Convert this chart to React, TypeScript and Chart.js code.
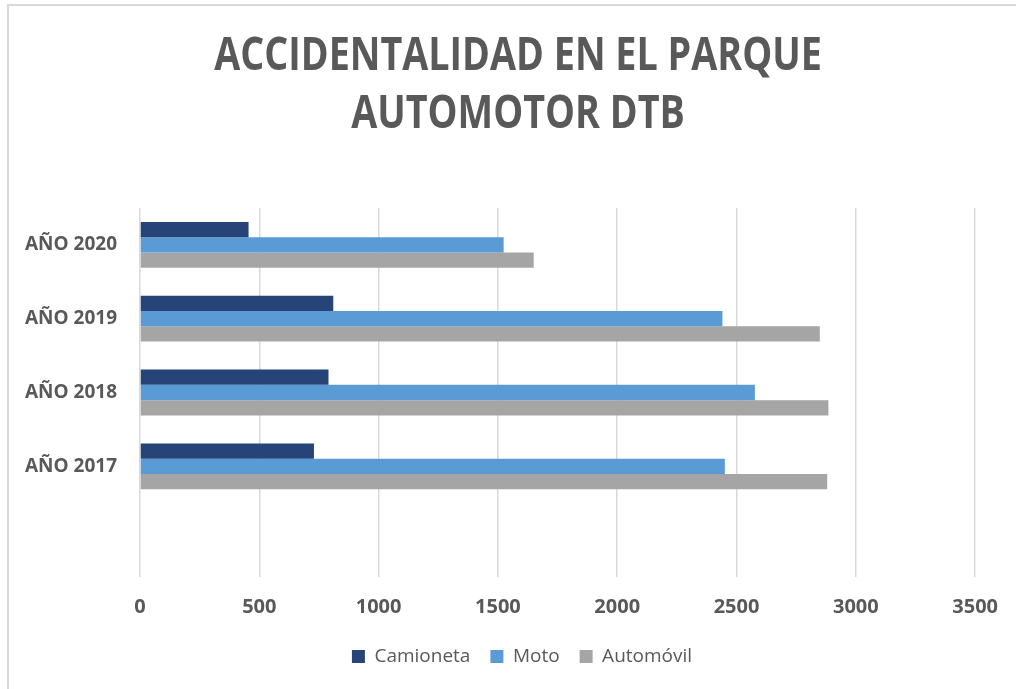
import React, { useEffect, useRef } from "react";
import { Chart, registerables } from "chart.js";

Chart.register(...registerables);

const titleLines = ["ACCIDENTALIDAD EN EL PARQUE", "AUTOMOTOR DTB"];
const categories = ["AÑO 2020", "AÑO 2019", "AÑO 2018", "AÑO 2017", ""];
const camioneta = [455, 810, 790, 729, null];
const moto = [1524, 2441, 2577, 2451, null];
const automovil = [1650, 2849, 2885, 2880, null];
const seriesNames = ["Camioneta", "Moto", "Automóvil"];
const seriesColors = ["#264478", "#5B9BD5", "#A5A5A5"];
const xMin = 0;
const xMax = 3500;
const xStep = 500;

const GRAY = "#595959";

const condensedTitle = {
  id: "condensedTitle",
  afterLayout(chart: any) {
    // centre the legend under the whole chart frame, as in the original
    if (chart.legend) {
      chart.legend.left += 24;
      chart.legend.right += 24;
    }
  },
  afterDraw(chart: any) {
    const ctx = chart.ctx as CanvasRenderingContext2D;
    ctx.save();
    ctx.font = "bold 46px 'Open Sans', sans-serif";
    ctx.fillStyle = GRAY;
    ctx.textAlign = "center";
    ctx.textBaseline = "alphabetic";
    ctx.translate(518, 0);
    ctx.scale(0.82, 1);
    ctx.fillText(titleLines[0], 0, 70);
    ctx.fillText(titleLines[1], 0, 128);
    ctx.restore();
  },
};

export default function App() {
  const ref = useRef<HTMLCanvasElement | null>(null);

  useEffect(() => {
    if (!ref.current) return;
    const chart = new Chart(ref.current, {
      type: "bar",
      data: {
        labels: categories,
        datasets: [camioneta, moto, automovil].map((d, i) => ({
          label: seriesNames[i],
          data: d,
          backgroundColor: seriesColors[i],
          borderWidth: 0,
          categoryPercentage: 0.62,
          barPercentage: 1.0,
        })),
      },
      plugins: [condensedTitle],
      options: {
        indexAxis: "y",
        animation: false,
        responsive: false,
        maintainAspectRatio: false,
        layout: { padding: { left: 20, right: 40, top: 208, bottom: 13 } },
        plugins: {
          tooltip: { enabled: false },
          title: { display: false },
          legend: {
            position: "bottom",
            labels: {
              color: GRAY,
              font: { family: "'Open Sans', sans-serif", size: 19 },
              boxWidth: 13,
              boxHeight: 13,
              padding: 20,
            },
          },
        },
        scales: {
          x: {
            min: xMin,
            max: xMax,
            border: { display: false },
            grid: { color: "#d9d9d9", lineWidth: 1.5, drawTicks: false },
            ticks: {
              stepSize: xStep,
              color: GRAY,
              padding: 18,
              font: { family: "'Open Sans', sans-serif", weight: "bold", size: 20 },
              callback: (v: any) => String(v),
            },
            afterFit: (s: any) => {
              s.height = 50;
            },
          },
          y: {
            border: { display: false },
            grid: { display: false, drawTicks: false },
            ticks: {
              color: GRAY,
              padding: 23,
              font: { family: "'Open Sans', sans-serif", weight: "bold", size: 19 },
            },
            afterFit: (s: any) => {
              s.width = 120;
            },
          },
        },
      },
    });
    return () => chart.destroy();
  }, []);

  return (
    <div style={{ position: "fixed", left: 0, top: 0, width: 1016, height: 689, background: "#fff", overflow: "hidden" }}>
      <div
        style={{
          position: "absolute",
          left: 7,
          top: 4,
          width: 1100,
          height: 800,
          borderTop: "2px solid #d9d9d9",
          borderLeft: "2px solid #d9d9d9",
        }}
      />
      <canvas ref={ref} width={1016} height={689} style={{ position: "absolute", left: 0, top: 0 }} />
    </div>
  );
}
